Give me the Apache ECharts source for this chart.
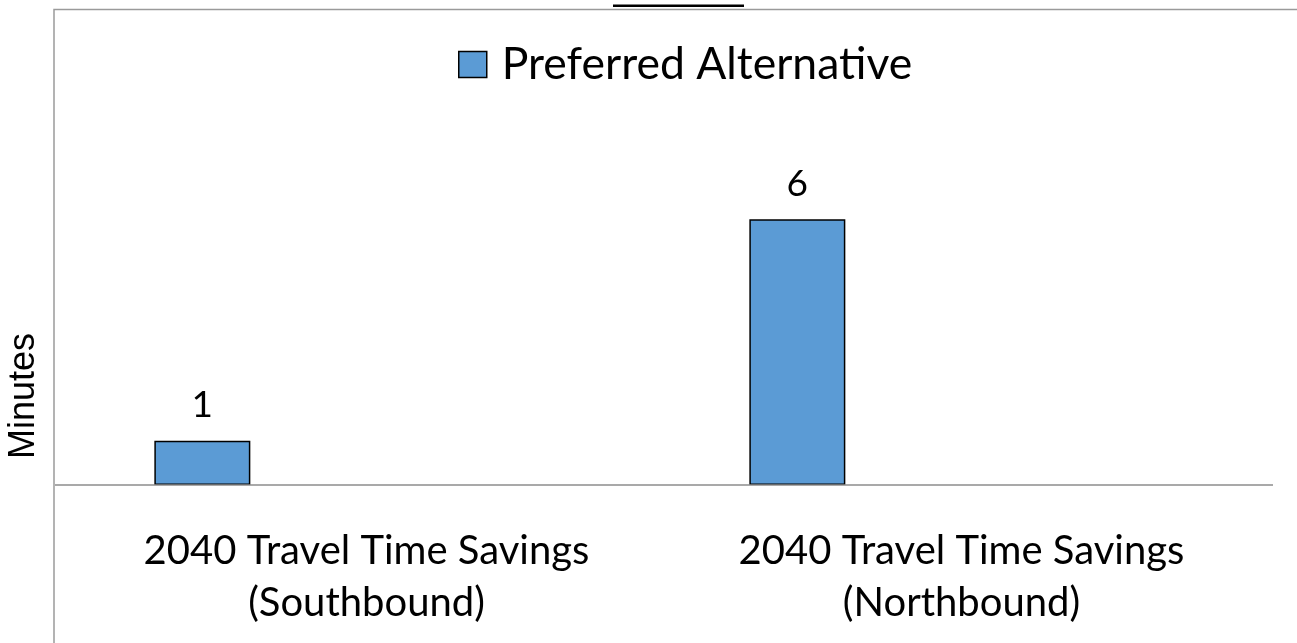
<!DOCTYPE html>
<html>
<head>
<meta charset="utf-8">
<script src="https://cdn.jsdelivr.net/npm/echarts@6/dist/echarts.min.js"></script>
<style>
html,body{margin:0;padding:0;background:#fff;}
#chart{width:1297px;height:643px;}
</style>
</head>
<body>
<div id="chart"></div>
<script>
const categories = ['2040 Travel Time Savings\n(Southbound)', '2040 Travel Time Savings\n(Northbound)'];
const seriesName = 'Preferred Alternative';
const preferredValues = [1, 6];
const emptyValues = [null, null];
const axisTitle = 'Minutes';
const chartTitle = 'Conditions';

const chart = echarts.init(document.getElementById('chart'), null, {renderer: 'canvas'});
const option = {
  backgroundColor: '#ffffff',
  animation: false,
  legend: {
    data: [seriesName],
    left: 458,
    top: 42,
    padding: 0,
    icon: 'rect',
    itemWidth: 28,
    itemHeight: 26,
    itemStyle: {borderColor: '#000', borderWidth: 1.5},
    textStyle: {fontFamily: 'Lato', fontSize: 44.5, color: '#000', padding: [0, 0, 0, 10]}
  },
  grid: {left: 69, right: 38, top: 42, bottom: 158, containLabel: false},
  xAxis: {
    type: 'category',
    data: categories,
    axisLine: {show: false},
    axisTick: {show: false},
    axisLabel: {
      interval: 0,
      margin: 40,
      fontFamily: 'Lato',
      fontSize: 40,
      lineHeight: 52,
      color: '#000'
    }
  },
  yAxis: {
    type: 'value',
    min: 0,
    max: 10,
    show: false
  },
  series: [
    {
      name: seriesName,
      type: 'bar',
      data: preferredValues,
      barWidth: 96,
      barGap: '71%',
      itemStyle: {color: '#5b9bd5', borderColor: '#000', borderWidth: 1.5},
      label: {
        show: true,
        position: 'top',
        distance: 17,
        fontFamily: 'Lato',
        fontSize: 37,
        color: '#000'
      }
    },
    {name: 'empty1', type: 'bar', data: emptyValues, barWidth: 96},
    {name: 'empty2', type: 'bar', data: emptyValues, barWidth: 96}
  ],
  graphic: [
    {
      type: 'rect',
      shape: {x: 54, y: 9.5, width: 1300, height: 700},
      style: {fill: 'none', stroke: '#9a9a9a', lineWidth: 1.5},
      silent: true
    },
    {
      type: 'text',
      x: 24.5,
      y: 396,
      rotation: Math.PI / 2,
      style: {text: axisTitle, font: '36px "Liberation Sans", Arial, sans-serif', fill: '#000', align: 'center', verticalAlign: 'middle'}
    },
    {
      type: 'text',
      x: 678.5,
      y: -6.5,
      style: {text: chartTitle, font: 'bold 25px "Liberation Sans", Arial, sans-serif', fill: '#000', align: 'center', verticalAlign: 'middle'}
    },
    {
      type: 'line',
      shape: {x1: 613, y1: 5.7, x2: 744, y2: 5.7},
      style: {stroke: '#000', lineWidth: 2.5}
    }
  ]
};
chart.setOption(option);
// category axis baseline at value 0, extended across the plot frame as in the reference
const y0 = chart.convertToPixel({yAxisIndex: 0}, 0);
chart.setOption({
  graphic: [
    {
      type: 'line',
      id: 'baseline',
      z: 10,
      shape: {x1: 55, y1: y0, x2: 1273, y2: y0},
      style: {stroke: '#8c8c8c', lineWidth: 1.5}
    }
  ]
});
</script>
</body>
</html>
